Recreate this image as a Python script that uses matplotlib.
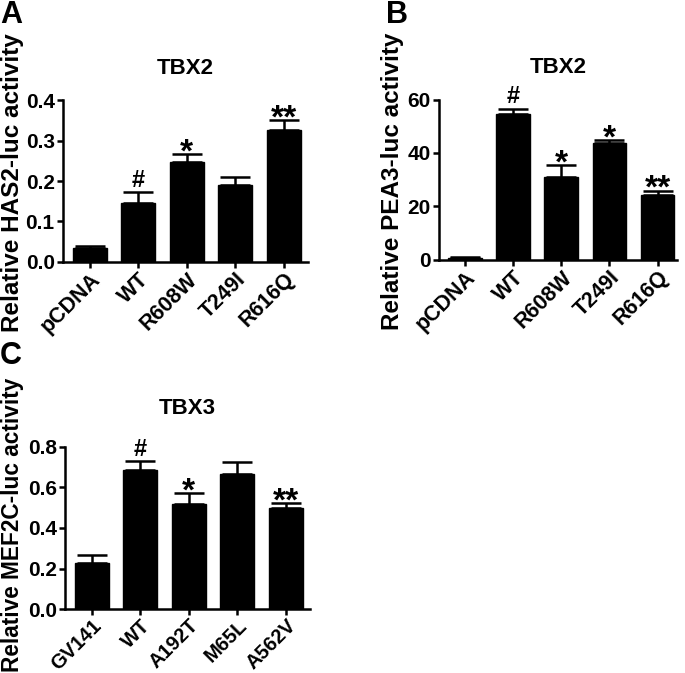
import matplotlib
matplotlib.use('Agg')
import matplotlib.pyplot as plt

plt.rcParams['font.family'] = ['Liberation Sans', 'DejaVu Sans']
plt.rcParams['font.weight'] = 'bold'

# panel A - TBX2 / HAS2-luc
a_labels = ['pCDNA', 'WT', 'R608W', 'T249I', 'R616Q']
a_vals = [0.033, 0.146, 0.246, 0.190, 0.326]
a_err = [0.006, 0.026, 0.020, 0.019, 0.024]
a_marks = ['', '#', '*', '', '**']
a_ticks = [0.0, 0.1, 0.2, 0.3, 0.4]

# panel B - TBX2 / PEA3-luc
b_labels = ['pCDNA', 'WT', 'R608W', 'T249I', 'R616Q']
b_vals = [0.6, 54.5, 31.1, 43.6, 24.3]
b_err = [0.3, 2.1, 4.4, 1.2, 1.5]
b_marks = ['', '#', '*', '*', '**']
b_ticks = [0, 20, 40, 60]

# panel C - TBX3 / MEF2C-luc
c_labels = ['GV141', 'WT', 'A192T', 'M65L', 'A562V']
c_vals = [0.227, 0.687, 0.517, 0.666, 0.497]
c_err = [0.038, 0.042, 0.054, 0.058, 0.025]
c_marks = ['', '#', '*', '', '**']
c_ticks = [0.0, 0.2, 0.4, 0.6, 0.8]

LW = 1.8


def draw_panel(ax, labels, vals, err, marks, ticks, fmt, title, ylabel,
               xlim, title_y, ylab_xy, ylab_size=17.5, xt_size=15.5):
    x = list(range(len(vals)))
    ax.bar(x, vals, width=0.7, color='black', edgecolor='black', zorder=2)
    ax.errorbar(x, vals, yerr=[[0] * len(err), err], fmt='none',
                ecolor='black', elinewidth=LW, capsize=11, capthick=LW, zorder=1)
    span = ticks[-1] - ticks[0]
    for xi, v, e, m in zip(x, vals, err, marks):
        if not m:
            continue
        if m == '#':
            ax.text(xi, v + e + span * 0.004, m, ha='center', va='bottom',
                    fontsize=17, fontweight='bold')
        else:
            ax.text(xi, v + e - span * 0.088, m, ha='center', va='bottom',
                    fontsize=24, fontweight='bold')
    ax.set_xlim(*xlim)
    ax.set_ylim(ticks[0], ticks[-1])
    ax.set_yticks(ticks)
    ax.set_yticklabels([fmt % t for t in ticks], fontsize=15, fontweight='bold')
    ax.set_xticks(x)
    ax.set_xticklabels(labels, rotation=45, ha='right', va='top',
                       rotation_mode='anchor', fontsize=xt_size, fontweight='bold')
    for s in ['top', 'right']:
        ax.spines[s].set_visible(False)
    for s in ['left', 'bottom']:
        ax.spines[s].set_linewidth(LW)
    ax.tick_params(direction='out', length=4, width=LW, pad=2)
    ax.tick_params(axis='x', pad=1)
    ax.text(0.5, title_y, title, transform=ax.transAxes, ha='center',
            va='center', fontsize=16, fontweight='bold')
    ax.set_ylabel(ylabel, fontsize=ylab_size, fontweight='bold')
    ax.yaxis.set_label_coords(*ylab_xy)


fig = plt.figure(figsize=(6.85, 6.73), dpi=100)

axA = fig.add_axes([0.092, 0.611, 0.358, 0.240])
draw_panel(axA, a_labels, a_vals, a_err, a_marks, a_ticks, '%.1f', 'TBX2',
           'Relative HAS2-luc activity', (-0.55, 4.5), 1.198, (-0.159, 0.49))

axB = fig.add_axes([0.641, 0.614, 0.347, 0.238])
draw_panel(axB, b_labels, b_vals, b_err, b_marks, b_ticks, '%d', 'TBX2',
           'Relative PEA3-luc activity', (-0.54, 4.4), 1.198, (-0.147, 0.49))

axC = fig.add_axes([0.095, 0.095, 0.358, 0.241])
draw_panel(axC, c_labels, c_vals, c_err, c_marks, c_ticks, '%.1f', 'TBX3',
           'Relative MEF2C-luc activity', (-0.55, 4.5), 1.235, (-0.167, 0.52),
           ylab_size=16.3, xt_size=14.5)

fig.text(0.0, 1.0, 'A', ha='left', va='top', fontsize=22, fontweight='bold')
fig.text(386 / 685, 1.0, 'B', ha='left', va='top', fontsize=22, fontweight='bold')
fig.text(0.0, 1 - 341 / 673, 'C', ha='left', va='top', fontsize=22, fontweight='bold')

fig.savefig('out.png', dpi=100)
